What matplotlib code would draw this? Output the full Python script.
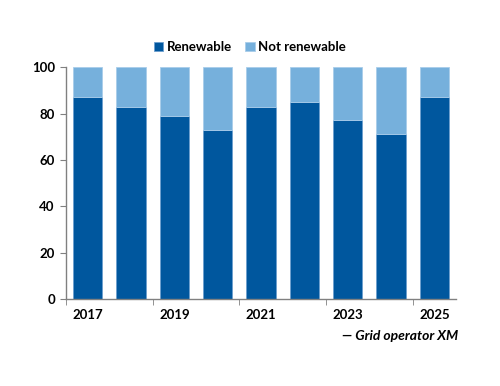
import numpy as np
import matplotlib
matplotlib.use('Agg')
import matplotlib.pyplot as plt

plt.rcParams['font.family'] = ['Lato', 'DejaVu Sans']

years = ['2017', '2018', '2019', '2020', '2021', '2022', '2023', '2024', '2025']
renewable = [87, 83, 79, 73, 83, 85, 77, 71, 87]
not_renewable = [100 - v for v in renewable]

dark = '#00579e'
light = '#76b0dc'

fig = plt.figure(figsize=(5, 3.86), dpi=100)
ax = fig.add_axes([0.132, 0.2254, 0.78, 0.6006])

x = np.arange(len(years))
ax.bar(x, renewable, width=0.67, color=dark, edgecolor='#6d9fcf', linewidth=0.6, label='Renewable')
ax.bar(x, not_renewable, width=0.67, bottom=renewable, color=light, edgecolor='#a9cdea',
       linewidth=0.6, label='Not renewable')

ax.set_xlim(-0.5, len(years) - 0.5)
ax.set_ylim(0, 100)
ax.set_yticks([0, 20, 40, 60, 80, 100])
ax.tick_params(axis='y', direction='out', length=4, color='#808080', labelsize=9.5, pad=4)

# labels under every other bar, ticks at every other boundary
ax.set_xticks(x[::2])
ax.set_xticklabels(years[::2])
ax.set_xticks(np.arange(-0.5, len(years), 2), minor=True)
ax.tick_params(axis='x', which='major', length=0, labelsize=9.5, pad=7)
ax.tick_params(axis='x', which='minor', direction='out', length=4, color='#808080')
for lab in ax.get_xticklabels() + ax.get_yticklabels():
    lab.set_fontweight('bold')

for s in ['top', 'right']:
    ax.spines[s].set_visible(False)
for s in ['left', 'bottom']:
    ax.spines[s].set_color('#808080')
    ax.spines[s].set_linewidth(1)

leg = fig.legend(loc='center', bbox_to_anchor=(0.5, 0.878), ncol=2, frameon=False,
                 handlelength=0.7, handleheight=0.7, handletextpad=0.3, columnspacing=1.0,
                 prop={'size': 9.5, 'weight': 'bold'})

fig.text(0.916, 0.13, '— Grid operator XM', ha='right', va='center', fontsize=10,
         style='italic', fontweight='bold')

fig.savefig('out.png', dpi=100)
